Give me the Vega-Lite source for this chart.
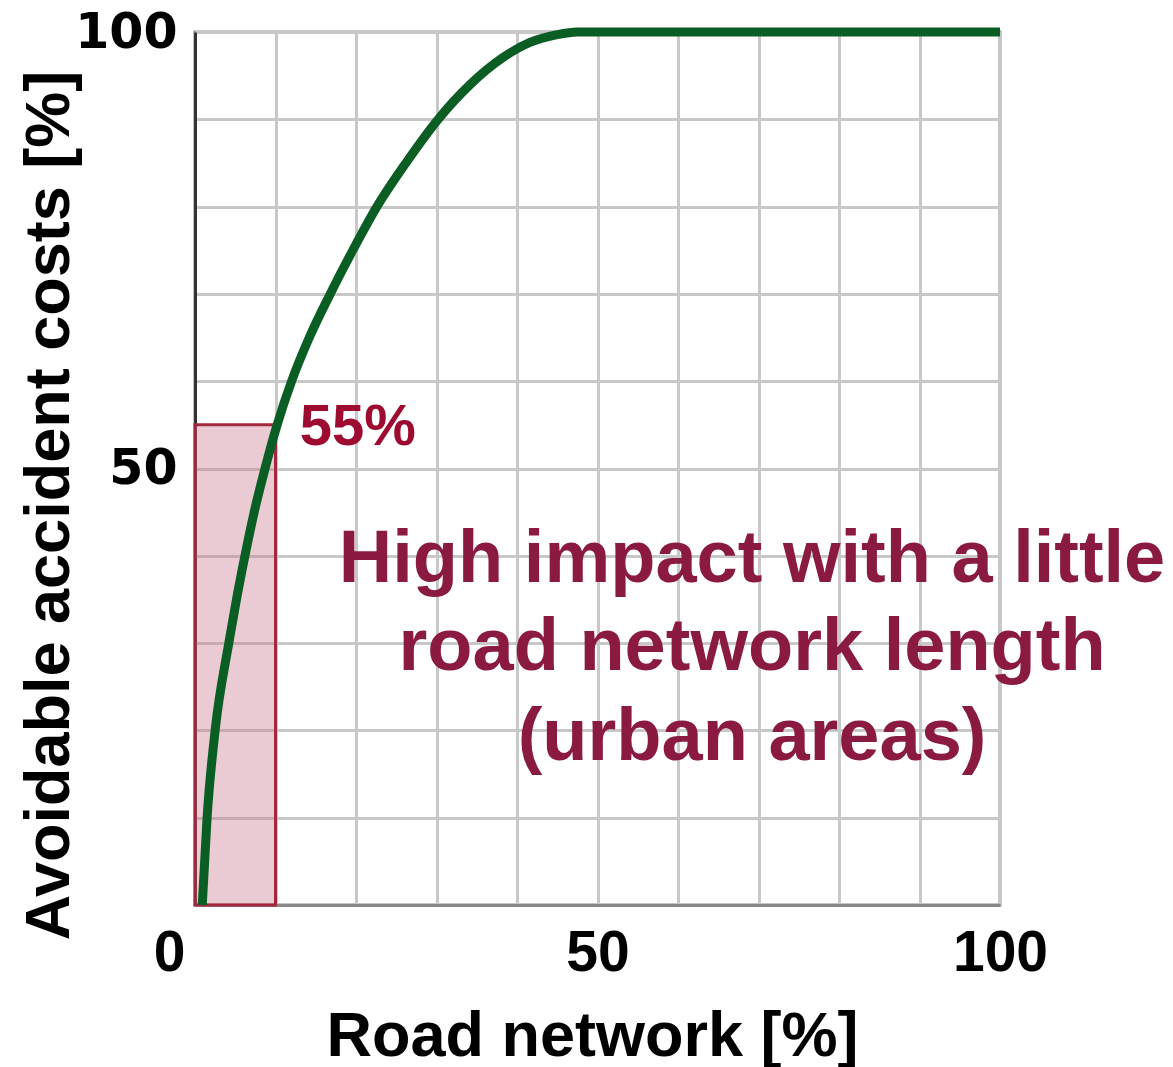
{
  "$schema": "https://vega.github.io/schema/vega-lite/v6.json",
  "autosize": {"type": "none"},
  "width": 805,
  "height": 873,
  "padding": {"left": 195, "top": 32, "right": 173, "bottom": 162},
  "background": "white",
  "config": {
    "view": {"stroke": "#8c8c8c", "strokeWidth": 3},
    "axis": {"gridColor": "#c8c8c8", "gridWidth": 3, "ticks": false}
  },
  "encoding": {
    "x": {
      "field": "x", "type": "quantitative",
      "scale": {"domain": [0, 100], "nice": false, "zero": false},
      "axis": {
        "values": [0, 10, 20, 30, 40, 50, 60, 70, 80, 90, 100],
        "labelExpr": "datum.value == 0 || datum.value == 50 || datum.value == 100 ? datum.label : ''",
        "labelAlign": {"expr": "datum.value == 0 ? 'right' : 'center'"},
        "labelOffset": {"expr": "datum.value == 0 ? -10 : 0"},
        "labelFont": "Liberation Sans", "labelFontWeight": "bold", "labelFontSize": 57,
        "labelColor": "black", "labelPadding": 20, "labelFlush": false,
        "domainColor": "#888888", "domainWidth": 3,
        "title": "Road network [%]",
        "titleFont": "Liberation Sans", "titleFontWeight": "bold", "titleFontSize": 63,
        "titleColor": "black", "titleX": 397, "titleY": 150,
        "titleBaseline": "alphabetic", "titleAlign": "center"
      }
    },
    "y": {
      "field": "y", "type": "quantitative",
      "scale": {"domain": [0, 100], "nice": false, "zero": false},
      "axis": {
        "values": [0, 10, 20, 30, 40, 50, 60, 70, 80, 90, 100],
        "labelExpr": "datum.value == 50 || datum.value == 100 ? datum.label : ''",
        "labelFont": "DejaVu Sans", "labelFontWeight": "bold", "labelFontSize": 49,
        "labelColor": "black", "labelPadding": 18, "labelFlush": false,
        "domainColor": "#333333", "domainWidth": 3,
        "title": "Avoidable accident costs [%]",
        "titleFont": "Liberation Sans", "titleFontWeight": "bold", "titleFontSize": 63,
        "titleColor": "black", "titleX": -127, "titleY": 473, "titleAngle": -90,
        "titleBaseline": "alphabetic", "titleAlign": "center"
      }
    }
  },
  "layer": [
    {
      "data": {"values": [{"x": 0, "x2": 10, "y": 0, "y2": 55}]},
      "mark": {"type": "rect", "fill": "#cb788d", "fillOpacity": 0.39, "stroke": "#a3283f", "strokeWidth": 3},
      "encoding": {"x2": {"field": "x2"}, "y2": {"field": "y2"}}
    },
    {
      "data": {"values": [
        {"x": 0.9, "y": 0}, {"x": 1.5, "y": 10}, {"x": 2.5, "y": 20}, {"x": 4.2, "y": 30},
        {"x": 5.15, "y": 35}, {"x": 6.2, "y": 40}, {"x": 7.35, "y": 45}, {"x": 8.7, "y": 50},
        {"x": 10.2, "y": 55}, {"x": 12, "y": 60}, {"x": 14.2, "y": 65}, {"x": 16.8, "y": 70},
        {"x": 19.6, "y": 75}, {"x": 22.6, "y": 80}, {"x": 26.2, "y": 85}, {"x": 30.2, "y": 90},
        {"x": 34.2, "y": 94.0}, {"x": 38.3, "y": 97.1}, {"x": 41.6, "y": 98.8}, {"x": 45, "y": 99.7},
        {"x": 47.5, "y": 100}, {"x": 100, "y": 100}
      ]},
      "mark": {"type": "line", "color": "#0b5e23", "strokeWidth": 9, "interpolate": "monotone", "strokeCap": "butt"}
    },
    {
      "data": {"values": [{"x": 13.0, "y": 52.7, "t": "55%"}]},
      "mark": {"type": "text", "font": "Liberation Sans", "fontWeight": "bold", "fontSize": 58, "color": "#9e0b30", "align": "left", "baseline": "alphabetic"},
      "encoding": {"text": {"field": "t"}}
    },
    {
      "data": {"values": [
        {"x": 69.2, "y": 37.0, "t": "High impact with a little"},
        {"x": 69.2, "y": 26.9, "t": "road network length"},
        {"x": 69.2, "y": 16.6, "t": "(urban areas)"}
      ]},
      "mark": {"type": "text", "font": "Liberation Sans", "fontWeight": "bold", "fontSize": 74, "color": "#8a1a41", "align": "center", "baseline": "alphabetic"},
      "encoding": {"text": {"field": "t"}}
    }
  ]
}
